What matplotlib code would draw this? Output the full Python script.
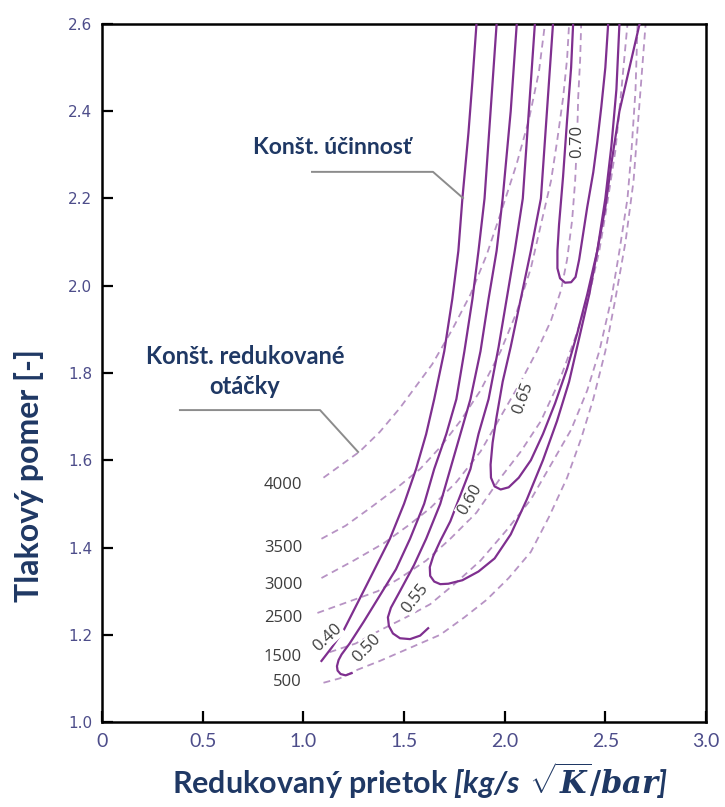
import matplotlib
matplotlib.use("Agg")
import matplotlib.pyplot as plt

plt.rcParams['mathtext.fontset'] = 'custom'
plt.rcParams['mathtext.bfit'] = 'Lato:bold:italic'
plt.rcParams['mathtext.it'] = 'DejaVu Serif:bold:italic'
plt.rcParams['mathtext.rm'] = 'DejaVu Serif:bold'
plt.rcParams['lines.scale_dashes'] = False

NAVY = "#1f3864"
TICK_COLOR = "#4d4d8a"
SOLID = "#7f2f8f"
DASHED = "#b793c4"

# constant reduced speed lines (dashed)
speed_labels = ["4000", "3500", "3000", "2500", "1500", "500"]
speed_label_y = [1.543, 1.399, 1.314, 1.238, 1.149, 1.092]

speed_4000_x = [1.10, 1.19, 1.28, 1.38, 1.48, 1.56, 1.64, 1.74, 1.83, 1.91, 1.99, 2.06, 2.12, 2.17, 2.20]
speed_4000_y = [1.56, 1.59, 1.62, 1.665, 1.72, 1.77, 1.82, 1.90, 1.98, 2.07, 2.18, 2.28, 2.38, 2.49, 2.60]
speed_3500_x = [1.09, 1.21, 1.33, 1.46, 1.58, 1.68, 1.78, 1.88, 1.98, 2.06, 2.13, 2.18, 2.23, 2.26,
                2.29, 2.31, 2.32]
speed_3500_y = [1.42, 1.45, 1.49, 1.535, 1.58, 1.63, 1.69, 1.76, 1.85, 1.94, 2.04, 2.14, 2.24, 2.33,
                2.43, 2.52, 2.60]
speed_3000_x = [1.09, 1.25, 1.40, 1.52, 1.63, 1.76, 1.88, 1.98, 2.08, 2.16, 2.23, 2.28, 2.31, 2.335,
                2.35, 2.36, 2.365, 2.375, 2.38]
speed_3000_y = [1.33, 1.37, 1.41, 1.45, 1.49, 1.55, 1.62, 1.70, 1.78, 1.85, 1.92, 1.99, 2.06, 2.15,
                2.24, 2.34, 2.43, 2.52, 2.60]
speed_2500_x = [1.07, 1.16, 1.25, 1.37, 1.48, 1.61, 1.73, 1.86, 1.98, 2.08, 2.18, 2.27, 2.35, 2.42,
                2.47, 2.51, 2.55, 2.58, 2.61]
speed_2500_y = [1.25, 1.265, 1.28, 1.30, 1.33, 1.37, 1.42, 1.48, 1.56, 1.62, 1.69, 1.78, 1.88, 1.98,
                2.08, 2.19, 2.31, 2.45, 2.60]
speed_1500_x = [1.13, 1.26, 1.38, 1.51, 1.63, 1.76, 1.88, 2.01, 2.13, 2.23, 2.33, 2.41, 2.47, 2.53,
                2.57, 2.61, 2.63, 2.65, 2.66]
speed_1500_y = [1.16, 1.18, 1.21, 1.24, 1.27, 1.32, 1.37, 1.44, 1.51, 1.59, 1.67, 1.76, 1.85, 1.97,
                2.08, 2.20, 2.31, 2.45, 2.60]
speed_500_x = [1.10, 1.18, 1.27, 1.38, 1.48, 1.58, 1.68, 1.80, 1.91, 2.02, 2.13, 2.22, 2.31, 2.38,
               2.44, 2.50, 2.55, 2.60, 2.64, 2.67, 2.70]
speed_500_y = [1.09, 1.10, 1.12, 1.14, 1.16, 1.18, 1.20, 1.24, 1.28, 1.33, 1.39, 1.47, 1.56, 1.65,
               1.74, 1.85, 1.97, 2.10, 2.24, 2.42, 2.60]

# constant efficiency lines (solid)
eff_040_x = [1.09, 1.14, 1.20, 1.31, 1.43, 1.50, 1.56, 1.61, 1.65, 1.70, 1.74, 1.77, 1.79, 1.82, 1.84, 1.86]
eff_040_y = [1.14, 1.17, 1.21, 1.31, 1.42, 1.50, 1.58, 1.66, 1.74, 1.85, 1.97, 2.08, 2.20, 2.35, 2.47, 2.60]
eff_050_x = [1.24, 1.21, 1.185, 1.17, 1.167, 1.175, 1.19, 1.23, 1.30, 1.38, 1.46, 1.53, 1.60, 1.65,
             1.71, 1.76, 1.80, 1.84, 1.87, 1.90, 1.93, 1.96]
eff_050_y = [1.112, 1.107, 1.110, 1.118, 1.128, 1.142, 1.155, 1.18, 1.23, 1.29, 1.35, 1.42, 1.50, 1.58,
             1.66, 1.74, 1.85, 1.97, 2.08, 2.20, 2.40, 2.60]
eff_055_x = [1.62, 1.58, 1.53, 1.48, 1.445, 1.425, 1.42, 1.435, 1.48, 1.55, 1.61, 1.68, 1.73, 1.78,
             1.83, 1.88, 1.92, 1.96, 1.99, 2.03, 2.06]
eff_055_y = [1.215, 1.198, 1.19, 1.192, 1.203, 1.22, 1.24, 1.262, 1.30, 1.36, 1.42, 1.50, 1.58, 1.66,
             1.74, 1.85, 1.97, 2.08, 2.20, 2.40, 2.60]
eff_060_x = [2.15, 2.12, 2.09, 2.05, 2.01, 1.97, 1.92, 1.87, 1.83, 1.78, 1.73, 1.68, 1.645, 1.628,
             1.63, 1.65, 1.68, 1.72, 1.79, 1.87, 1.95, 2.03, 2.11, 2.19, 2.26, 2.32, 2.37, 2.42,
             2.46, 2.50, 2.53, 2.57, 2.62, 2.67]
eff_060_y = [2.60, 2.40, 2.20, 2.08, 1.97, 1.86, 1.74, 1.66, 1.58, 1.52, 1.46, 1.415, 1.38, 1.355,
             1.335, 1.322, 1.316, 1.317, 1.325, 1.345, 1.375, 1.43, 1.51, 1.60, 1.69, 1.78, 1.88, 1.98,
             2.08, 2.18, 2.28, 2.40, 2.50, 2.60]
eff_065_x = [2.24, 2.21, 2.18, 2.13, 2.08, 2.03, 1.99, 1.96, 1.94, 1.93, 1.932, 1.95, 1.98, 2.02,
             2.07, 2.13, 2.19, 2.25, 2.31, 2.36, 2.41, 2.46, 2.50, 2.53, 2.555, 2.57]
eff_065_y = [2.60, 2.40, 2.20, 2.08, 1.97, 1.86, 1.78, 1.70, 1.64, 1.59, 1.56, 1.54, 1.533, 1.538,
             1.56, 1.60, 1.66, 1.73, 1.81, 1.89, 1.98, 2.08, 2.20, 2.32, 2.45, 2.60]
eff_070_x = [2.34, 2.33, 2.31, 2.29, 2.27, 2.262, 2.262, 2.275, 2.30, 2.33, 2.352, 2.37, 2.39, 2.41,
             2.44, 2.46, 2.48, 2.50, 2.514]
eff_070_y = [2.60, 2.50, 2.38, 2.25, 2.14, 2.08, 2.04, 2.017, 2.007, 2.008, 2.02, 2.06, 2.12, 2.18,
             2.26, 2.33, 2.41, 2.50, 2.60]

eff_labels = ["0.40", "0.50", "0.55", "0.60", "0.65", "0.70"]
eff_label_x = [1.118, 1.316, 1.555, 1.828, 2.091, 2.360]
eff_label_y = [1.193, 1.170, 1.284, 1.509, 1.743, 2.330]
eff_label_rot = [43, 46, 52, 60, 70, 90]

fig = plt.figure(figsize=(7.25, 8.07), dpi=100)
ax = fig.add_axes([0.1407, 0.1053, 0.8331, 0.865])

speeds = [(speed_4000_x, speed_4000_y), (speed_3500_x, speed_3500_y),
          (speed_3000_x, speed_3000_y), (speed_2500_x, speed_2500_y),
          (speed_1500_x, speed_1500_y), (speed_500_x, speed_500_y)]
for sx, sy in speeds:
    ax.plot(sx, sy, color=DASHED, lw=1.3, dashes=[5, 3.5], zorder=2)

effs = [(eff_040_x, eff_040_y), (eff_050_x, eff_050_y), (eff_055_x, eff_055_y),
        (eff_060_x, eff_060_y), (eff_065_x, eff_065_y), (eff_070_x, eff_070_y)]
for ex, ey in effs:
    ax.plot(ex, ey, color=SOLID, lw=1.6, zorder=3, solid_joinstyle='round')

for lab, ly in zip(speed_labels, speed_label_y):
    ax.text(0.994, ly, lab, ha='right', va='center', fontsize=12,
            family='Open Sans', color='#3c3c3c', zorder=4)

for lab, lx, ly, rot in zip(eff_labels, eff_label_x, eff_label_y, eff_label_rot):
    ax.text(lx, ly, lab, ha='center', va='center', rotation=rot, fontsize=12,
            family='Open Sans', color='#3c3c3c', zorder=4,
            bbox=dict(boxstyle='square,pad=0.05', fc='white', ec='none'))

# annotations with leader lines
ax.plot([1.043, 1.644, 1.793], [2.261, 2.261, 2.201], color='#8c8c8c', lw=1.4, zorder=4)
ax.plot([0.387, 1.083, 1.272], [1.715, 1.715, 1.619], color='#8c8c8c', lw=1.4, zorder=4)
ax.text(1.143, 2.318, "Konšt. účinnosť", ha='center', va='center', fontsize=16.5,
        family='Lato', weight='bold', color=NAVY)
ax.text(0.71, 1.837, "Konšt. redukované", ha='center', va='center', fontsize=17,
        family='Lato', weight='bold', color=NAVY)
ax.text(0.71, 1.768, "otáčky", ha='center', va='center', fontsize=17,
        family='Lato', weight='bold', color=NAVY)

ax.set_xlim(0, 3.0)
ax.set_ylim(1.0, 2.6)
ax.set_xticks([0, 0.5, 1.0, 1.5, 2.0, 2.5, 3.0])
ax.set_xticklabels(["0", "0.5", "1.0", "1.5", "2.0", "2.5", "3.0"])
ax.set_yticks([1.0, 1.2, 1.4, 1.6, 1.8, 2.0, 2.2, 2.4, 2.6])
ax.set_yticklabels(["1.0", "1.2", "1.4", "1.6", "1.8", "2.0", "2.2", "2.4", "2.6"])
ax.tick_params(axis='both', direction='in', length=8, width=1.6, colors='black')
ax.tick_params(axis='x', labelsize=14, labelcolor=TICK_COLOR, pad=8)
ax.tick_params(axis='y', labelsize=11, labelcolor=TICK_COLOR, pad=7)
for t in ax.get_xticklabels():
    t.set_family('Lato')
for sp in ax.spines.values():
    sp.set_linewidth(1.8)

fig.text(29 / 725, 1 - 475 / 807, "Tlakový pomer [-]", rotation=90, ha='center',
         va='center', fontsize=23, family='Lato', weight='bold', color=NAVY)
fig.text(420 / 725, 1 - 781 / 807,
         r"Redukovaný prietok $\mathbfit{[kg/s}\ \sqrt{K}/bar\mathbfit{]}$",
         ha='center', va='center', fontsize=22, family='Lato', weight='bold', color=NAVY)

fig.savefig("out.png", dpi=100)
